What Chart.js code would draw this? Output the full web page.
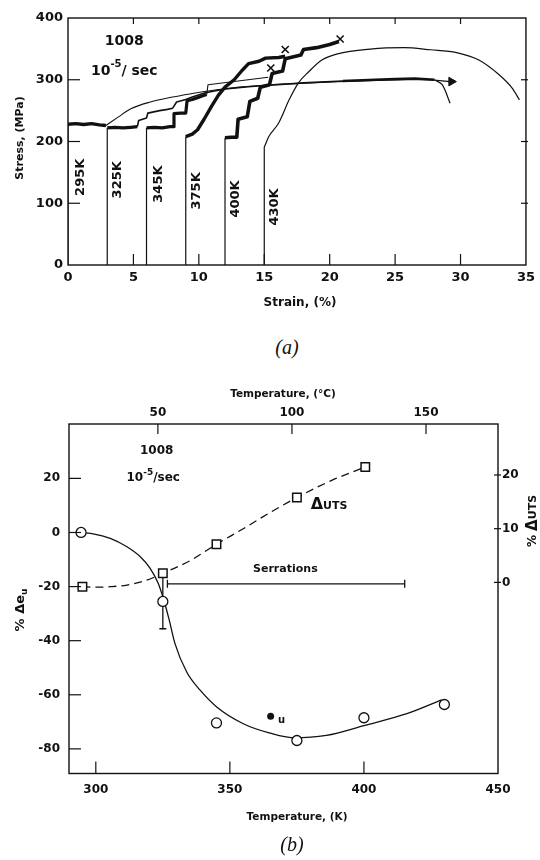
<!DOCTYPE html>
<html>
<head>
<meta charset="utf-8">
<script src="https://cdn.jsdelivr.net/npm/chart.js@4.4.1/dist/chart.umd.min.js"></script>
<style>
	body { margin: 0; background: #fff; width: 540px; height: 860px; position: relative; overflow: hidden; }
	.box { position: absolute; left: 0; width: 540px; }
	#boxA { top: 0; height: 330px; }
	#boxB { top: 380px; height: 460px; }
	.cap { position: absolute; font: italic 20px "Liberation Serif", serif; line-height: 20px; color: #111; transform: translateX(-50%); }
</style>
</head>
<body>
<div class="box" id="boxA"><canvas id="chartA" width="540" height="330"></canvas></div>
<div class="box" id="boxB"><canvas id="chartB" width="540" height="460"></canvas></div>
<div class="cap" style="left:287px; top:337px;">(a)</div>
<div class="cap" style="left:292px; top:834px;">(b)</div>
<script>
// ---------- (a) stress-strain curves, each test shifted along the strain axis ----------
const strainTicks = [0, 5, 10, 15, 20, 25, 30, 35];
const stressTicks = [0, 100, 200, 300, 400];
const testLabels = ['295K', '325K', '345K', '375K', '400K', '430K'];
const labelStrain = [1.0, 3.8, 6.9, 9.8, 12.8, 15.8];
const labelStress = [142, 138, 131, 120, 107, 94];

// 295K
const e295Load = [0, 0];
const s295Load = [0, 228];
const e295Yield = [0, 0.6, 1.2, 1.8, 2.4, 2.9];
const s295Yield = [228, 229, 227.5, 229, 227, 226];
const e295Hard = [2.9, 3.8, 4.8, 6.3, 8.0, 9.3, 11.1, 13.1, 15.6, 18.1, 20.6, 23.6, 25.7, 27.2, 29.3];
const s295Hard = [226, 239, 253, 264, 272, 277, 283, 288, 292, 294.5, 297, 299, 300, 300, 297];

// 325K
const e325Load = [3, 3];
const s325Load = [0, 222];
const e325Yield = [3, 3.6, 4.2, 4.8, 5.3];
const s325Yield = [222, 223, 222, 223, 224];
const e325Serr = [5.3, 5.4, 6.0, 6.1, 7.0, 7.6, 8.0, 8.3, 9.0, 9.5, 10.5, 12, 14, 16, 18, 21];
const s325Serr = [224, 234, 238, 246, 250, 252, 254, 264, 268, 272, 279, 285, 289, 292, 295, 298];
const e325Tail = [21, 23.5, 25, 26.5, 28];
const s325Tail = [298, 300, 301, 302, 300];
const e325Drop = [28, 28.6, 29.2];
const s325Drop = [300, 292, 262];

// 345K
const e345Load = [6, 6];
const s345Load = [0, 222];
const e345Serr = [6, 6.6, 7.2, 7.8, 8.05, 8.1, 8.6, 9.0, 9.1, 9.5, 9.9, 10.3, 10.6];
const s345Serr = [222, 223, 222, 224, 224, 245, 246, 246, 266, 268, 271, 274, 276];
const e345Thin = [10.6, 10.7, 13.0, 15.3];
const s345Thin = [276, 292, 298, 304];

// 375K
const e375Load = [9, 9];
const s375Load = [0, 208];
const e375Serr = [9.0, 9.5, 9.9, 10.4, 11.0, 11.5, 12.0, 12.7, 13.3, 13.8, 14.6, 15.1, 16.1, 16.6];
const s375Serr = [208, 212, 219, 236, 258, 275, 288, 300, 315, 326, 330, 335, 336, 338];

// 400K
const e400Load = [12, 12];
const s400Load = [0, 206];
const e400Serr = [12, 12.5, 12.9, 13.0, 13.7, 13.9, 14.5, 14.7, 15.4, 15.6, 16.4, 16.6, 17.8, 18.0, 19.0, 20.0, 20.7];
const s400Serr = [206, 207, 207, 236, 240, 265, 270, 288, 292, 310, 314, 334, 340, 349, 352, 357, 362];

// 430K
const e430Load = [15, 15];
const s430Load = [0, 191];
const e430Curve = [15.0, 15.35, 16.1, 16.9, 17.6, 18.4, 19.4, 20.6, 23.1, 25.7, 27.7, 29.7, 31.4, 32.95, 33.96, 34.5];
const s430Curve = [191, 208, 230, 267.5, 294.6, 313, 332, 342, 349.7, 352, 348.6, 344, 332, 308, 286, 267.5];

// fracture marks (x) and the run-out arrow
const fractureStrain = [15.5, 16.6, 20.8];
const fractureStress = [319, 349, 366];
const arrowStrain = [29.3];
const arrowStress = [297];

// ---------- (b) change in uniform elongation and UTS vs temperature ----------
const tempTicksK = [300, 350, 400, 450];
const tempTicksC = [50, 100, 150];
const euTicks = [-80, -60, -40, -20, 0, 20];
const utsTicks = [0, 10, 20];

const tempEu = [294.5, 325, 345, 375, 400, 430];
const deltaEu = [0, -25.5, -70.4, -76.9, -68.5, -63.6];
const tempUts = [295, 325, 345, 375, 400.5];
const deltaUts = [-0.8, 1.7, 7.1, 15.8, 21.5];

const fitEuTemp = [294.5, 299.4, 305.4, 311.6, 316.5, 320.2, 323.3, 325.2, 327.3, 329.5, 333.9, 339, 345.2, 355, 365, 373.6, 386, 400, 416, 429];
const fitEu = [0, -0.6, -2.2, -5.3, -8.9, -13.2, -18.9, -24.5, -32, -41, -51.6, -58.4, -64.6, -70.7, -74.2, -75.9, -75, -71.4, -67, -61.9];
const fitUtsTemp = [295, 300, 305.4, 311.6, 319, 325, 335, 345, 355, 365, 375, 388, 400.5];
const fitUts = [-0.8, -0.9, -0.8, -0.5, 0.4, 1.7, 4, 7.1, 10, 13, 15.8, 19, 21.5];

const serrTemp = [326.7, 415.2];
const serrLevel = [-19, -19];
const errTemp = [325, 325];
const errRange = [-15.7, -35.6];
const euDotTemp = [365.2];
const euDot = [-67.9];

// ---------- helpers ----------
const INK = '#111';
const zip = (xs, ys) => xs.map((x, i) => ({ x: x, y: ys[i] }));

function line(xs, ys, width, extra) {
	return Object.assign({
		data: zip(xs, ys),
		showLine: true,
		borderColor: INK,
		backgroundColor: INK,
		borderWidth: width,
		pointRadius: 0,
		borderJoinStyle: 'round',
	}, extra || {});
}

function drawRich(ctx, x, y, parts, rot) {
	ctx.save();
	ctx.translate(x, y);
	if (rot) ctx.rotate(rot * Math.PI / 180);
	let w = 0;
	parts.forEach(p => { ctx.font = p.f; w += ctx.measureText(p.t).width; });
	let cx = -w / 2;
	ctx.textBaseline = 'middle';
	ctx.textAlign = 'left';
	ctx.fillStyle = INK;
	parts.forEach(p => {
		ctx.font = p.f;
		ctx.fillText(p.t, cx, p.dy || 0);
		cx += ctx.measureText(p.t).width;
	});
	ctx.restore();
}

// frame, inward tick marks and free text
const decor = {
	id: 'decor',
	afterDraw(chart, args, opts) {
		const ctx = chart.ctx;
		const a = chart.chartArea;
		ctx.save();
		ctx.strokeStyle = INK;
		ctx.lineWidth = 1.4;
		ctx.strokeRect(a.left, a.top, a.right - a.left, a.bottom - a.top);
		ctx.lineWidth = 1.2;
		(opts.ticks || []).forEach(t => {
			const sc = chart.scales[t.scale];
			t.values.forEach(v => {
				const p = sc.getPixelForValue(v);
				const out = t.out || 0;
				ctx.beginPath();
				if (t.side === 'bottom') { ctx.moveTo(p, a.bottom + out); ctx.lineTo(p, a.bottom - t.len); }
				if (t.side === 'top') { ctx.moveTo(p, a.top - out); ctx.lineTo(p, a.top + t.len); }
				if (t.side === 'left') { ctx.moveTo(a.left - out, p); ctx.lineTo(a.left + t.len, p); }
				if (t.side === 'right') { ctx.moveTo(a.right + out, p); ctx.lineTo(a.right - t.len, p); }
				ctx.stroke();
			});
		});
		ctx.restore();
		(opts.texts || []).forEach(t => {
			const x = t.xs ? chart.scales[t.xs].getPixelForValue(t.x) : t.x;
			const y = t.ys ? chart.scales[t.ys].getPixelForValue(t.y) : t.y;
			drawRich(ctx, x, y, t.parts, t.rot);
		});
	}
};

const FONT = '"DejaVu Sans", sans-serif';
const bold = (s) => 'bold ' + s + 'px ' + FONT;
const fixTicks = (vals) => (scale) => { scale.ticks = vals.map(v => ({ value: v })); };

// ---------- chart (a) ----------
const datasetsA = [
	line(fractureStrain, fractureStress, 0, { showLine: false, pointStyle: 'crossRot', pointRadius: 5, pointBorderWidth: 1.6, borderColor: INK }),
	line(arrowStrain, arrowStress, 0, { showLine: false, pointStyle: 'triangle', rotation: 90, pointRadius: 5, pointBorderWidth: 1 }),
	line(e295Load, s295Load, 1.2),
	line(e295Yield, s295Yield, 3.4),
	line(e295Hard, s295Hard, 1.1, { cubicInterpolationMode: 'monotone' }),
	line(e325Load, s325Load, 1.2),
	line(e325Yield, s325Yield, 3.2),
	line(e325Serr, s325Serr, 1.6),
	line(e325Tail, s325Tail, 2.6),
	line(e325Drop, s325Drop, 1.2, { tension: 0.3 }),
	line(e345Load, s345Load, 1.2),
	line(e345Serr, s345Serr, 3.2),
	line(e345Thin, s345Thin, 1.1),
	line(e375Load, s375Load, 1.2),
	line(e375Serr, s375Serr, 3.4),
	line(e400Load, s400Load, 1.2),
	line(e400Serr, s400Serr, 3.6),
	line(e430Load, s430Load, 1.2),
	line(e430Curve, s430Curve, 1.2, { cubicInterpolationMode: 'monotone' }),
];

const textsA = [
	{ x: 4.3, y: 362, xs: 'x', ys: 'y', parts: [{ t: '1008', f: bold(14) }] },
	{ x: 4.3, y: 313, xs: 'x', ys: 'y', parts: [{ t: '10', f: bold(14) }, { t: '-5', f: bold(10), dy: -7 }, { t: '/ sec', f: bold(14) }] },
	{ x: 20, y: 138, rot: -90, parts: [{ t: 'Stress, (MPa)', f: bold(11) }] },
	{ x: 300, y: 303, parts: [{ t: 'Strain, (%)', f: bold(12) }] },
];
testLabels.forEach((lab, i) => {
	textsA.push({ x: labelStrain[i], y: labelStress[i], xs: 'x', ys: 'y', rot: -90, parts: [{ t: lab, f: bold(13) }] });
});

new Chart(document.getElementById('chartA'), {
	type: 'scatter',
	data: { datasets: datasetsA },
	options: {
		responsive: false,
		animation: false,
		layout: { padding: { top: 18, right: 10, left: 0, bottom: 0 } },
		plugins: {
			legend: { display: false },
			tooltip: { enabled: false },
			decor: {
				ticks: [
					{ scale: 'x', side: 'bottom', values: strainTicks.slice(1, -1), len: 11 },
					{ scale: 'x', side: 'top', values: strainTicks.slice(1, -1), len: 6 },
					{ scale: 'y', side: 'left', values: stressTicks.slice(1, -1), len: 12 },
					{ scale: 'y', side: 'right', values: stressTicks.slice(1, -1), len: 5, out: 2 },
				],
				texts: textsA,
			},
		},
		scales: {
			x: {
				type: 'linear', min: 0, max: 35,
				afterBuildTicks: fixTicks(strainTicks),
				afterFit: (s) => { s.height = 65; },
				grid: { display: false, drawTicks: false },
				border: { display: false },
				ticks: { padding: 5, color: INK, font: { family: FONT, size: 13, weight: 'bold' } },
			},
			y: {
				type: 'linear', min: 0, max: 400,
				afterBuildTicks: fixTicks(stressTicks),
				afterFit: (s) => { s.width = 68; },
				grid: { display: false, drawTicks: false },
				border: { display: false },
				ticks: { padding: 5, color: INK, font: { family: FONT, size: 13, weight: 'bold' } },
			},
		},
	},
	plugins: [decor],
});

// ---------- chart (b) ----------
const datasetsB = [
	line(tempEu, deltaEu, 0, { showLine: false, pointStyle: 'circle', pointRadius: 5, pointBorderWidth: 1.3, backgroundColor: '#fff', borderColor: INK, yAxisID: 'y' }),
	line(tempUts, deltaUts, 0, { showLine: false, pointStyle: 'rect', pointRadius: 6, pointBorderWidth: 1.5, backgroundColor: '#fff', borderColor: INK, yAxisID: 'y2' }),
	line(euDotTemp, euDot, 0, { showLine: false, pointStyle: 'circle', pointRadius: 3.5, yAxisID: 'y' }),
	line(serrTemp, serrLevel, 1.3, { pointStyle: 'line', rotation: 90, pointRadius: 4, pointBorderWidth: 1.3, yAxisID: 'y' }),
	line(errTemp, errRange, 1.3, { pointStyle: 'line', pointRadius: [0, 3.5], pointBorderWidth: 1.5, yAxisID: 'y' }),
	line(fitEuTemp, fitEu, 1.3, { cubicInterpolationMode: 'monotone', yAxisID: 'y' }),
	line(fitUtsTemp, fitUts, 1.3, { cubicInterpolationMode: 'monotone', borderDash: [8, 5], yAxisID: 'y2' }),
];

const textsB = [
	{ x: 322.7, y: 30, xs: 'x', ys: 'y', parts: [{ t: '1008', f: bold(12) }] },
	{ x: 321.4, y: 20, xs: 'x', ys: 'y', parts: [{ t: '10', f: bold(12) }, { t: '-5', f: bold(9), dy: -6 }, { t: '/sec', f: bold(12) }] },
	{ x: 387, y: 10.1, xs: 'x', ys: 'y', parts: [{ t: 'Δ', f: bold(16) }, { t: 'UTS', f: bold(11), dy: 1 }] },
	{ x: 370.7, y: -13.7, xs: 'x', ys: 'y', parts: [{ t: 'Serrations', f: bold(11) }] },
	{ x: 369.3, y: -69.5, xs: 'x', ys: 'y', parts: [{ t: 'u', f: bold(10) }] },
	{ x: 21, y: 230, rot: -90, parts: [{ t: '% Δe', f: bold(13) }, { t: 'u', f: bold(9), dy: 4 }] },
	{ x: 533, y: 141, rot: -90, parts: [{ t: '% ', f: bold(12) }, { t: 'Δ', f: bold(15) }, { t: 'UTS', f: bold(11) }] },
	{ x: 283, y: 14, parts: [{ t: 'Temperature, (°C)', f: bold(10.5) }] },
	{ x: 297, y: 437, parts: [{ t: 'Temperature, (K)', f: bold(10.5) }] },
];

new Chart(document.getElementById('chartB'), {
	type: 'scatter',
	data: { datasets: datasetsB },
	options: {
		responsive: false,
		animation: false,
		layout: { padding: 0 },
		plugins: {
			legend: { display: false },
			tooltip: { enabled: false },
			decor: {
				ticks: [
					{ scale: 'x', side: 'bottom', values: tempTicksK.slice(0, -1), len: 12 },
					{ scale: 'xTop', side: 'top', values: tempTicksC, len: 10 },
					{ scale: 'y', side: 'left', values: euTicks, len: 12 },
					{ scale: 'y2', side: 'right', values: utsTicks, len: 4, out: 3 },
				],
				texts: textsB,
			},
		},
		scales: {
			x: {
				type: 'linear', position: 'bottom', min: 290, max: 450,
				afterBuildTicks: fixTicks(tempTicksK),
				afterFit: (s) => { s.height = 66.5; },
				grid: { display: false, drawTicks: false },
				border: { display: false },
				ticks: { padding: 9, color: INK, font: { family: FONT, size: 12, weight: 'bold' } },
			},
			xTop: {
				type: 'linear', position: 'top', min: 290 - 273.15, max: 450 - 273.15,
				afterBuildTicks: fixTicks(tempTicksC),
				afterFit: (s) => { s.height = 44; },
				grid: { display: false, drawTicks: false },
				border: { display: false },
				ticks: { padding: 4, color: INK, font: { family: FONT, size: 12, weight: 'bold' } },
			},
			y: {
				type: 'linear', position: 'left', min: -89.1, max: 40.1,
				afterBuildTicks: fixTicks(euTicks),
				afterFit: (s) => { s.width = 69; },
				grid: { display: false, drawTicks: false },
				border: { display: false },
				ticks: { padding: 9, color: INK, font: { family: FONT, size: 12, weight: 'bold' } },
			},
			y2: {
				type: 'linear', position: 'right', min: -35.6, max: 29.5,
				afterBuildTicks: fixTicks(utsTicks),
				afterFit: (s) => { s.width = 42; },
				grid: { display: false, drawTicks: false },
				border: { display: false },
				ticks: { padding: 4, color: INK, font: { family: FONT, size: 12, weight: 'bold' } },
			},
		},
	},
	plugins: [decor],
});
</script>
</body>
</html>
